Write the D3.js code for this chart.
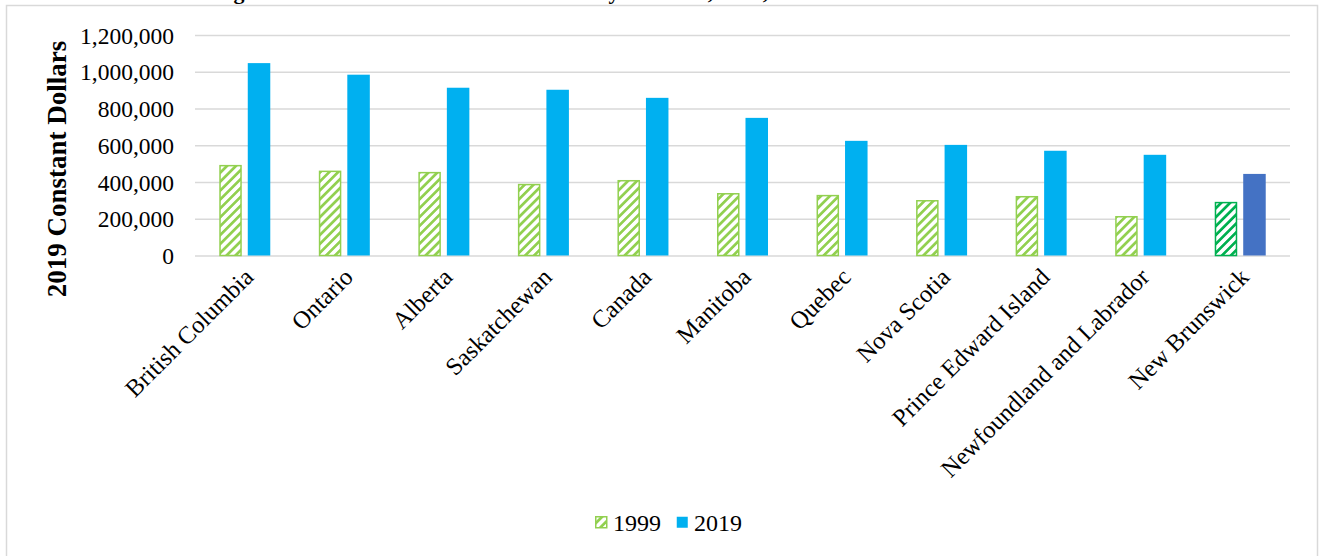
<!DOCTYPE html>
<html>
<head>
<meta charset="utf-8">
<script src="https://cdn.jsdelivr.net/npm/d3@7"></script>
<style>
  html, body { margin: 0; padding: 0; background: #fff; }
  svg { display: block; }
  text { font-family: "Liberation Serif", "Times New Roman", serif; fill: #000; }
</style>
</head>
<body>
<svg id="chart" width="1321" height="556"></svg>
<script>
// ---- data ----
const categories = ["British Columbia", "Ontario", "Alberta", "Saskatchewan", "Canada", "Manitoba",
  "Quebec", "Nova Scotia", "Prince Edward Island", "Newfoundland and Labrador", "New Brunswick"];
const years = ["1999", "2019"];
const values1999 = [493000, 462000, 455000, 390000, 411000, 340000, 330000, 302000, 324000, 215000, 292000];
const values2019 = [1047000, 984000, 913000, 902000, 858000, 749000, 624000, 602000, 570000, 548000, 444000];
const yTicks = [0, 200000, 400000, 600000, 800000, 1000000, 1200000];
const yTitle = "2019 Constant Dollars";
const chartTitle = "Figure 2: Median Net Worth of Families by Province, 1999, 2019";
const highlight = "New Brunswick";

const svg = d3.select("#chart");
const m = { left: 195, right: 1290, top: 35, bottom: 255.5 };

// patterns
const defs = svg.append("defs");
function hatch(id, color) {
  const p = defs.append("pattern").attr("id", id)
    .attr("patternUnits", "userSpaceOnUse")
    .attr("width", 6.3).attr("height", 6.3)
    .attr("patternTransform", "rotate(45)");
  p.append("rect").attr("width", 6.3).attr("height", 6.3).attr("fill", "#fff");
  p.append("rect").attr("x", 0).attr("width", 2.7).attr("height", 6.3).attr("fill", color);
}
hatch("h1", "#92D050");
hatch("h2", "#00B050");

// frame
svg.append("rect").attr("x", 6.5).attr("y", 5.5).attr("width", 1311).attr("height", 600)
  .attr("fill", "none").attr("stroke", "#D9D9D9").attr("stroke-width", 1.5);

// clipped title (only descenders visible, as in the reference)
svg.append("text").attr("x", 214).attr("y", -1)
  .style("font-size", "22px").style("font-weight", "bold").text(chartTitle);

const x = d3.scaleBand().domain(categories).range([m.left, m.right]).padding(0);
const x1 = d3.scaleBand().domain(years)
  .range([x.bandwidth() / 2 - 25.5, x.bandwidth() / 2 + 25.5]).paddingInner(0.21);
const y = d3.scaleLinear().domain([0, 1200000]).range([m.bottom, m.top]);

// gridlines + tick labels
const yAxis = d3.axisLeft(y).tickValues(yTicks).tickSize(-(m.right - m.left))
  .tickFormat(d3.format(","));
const gy = svg.append("g").attr("transform", `translate(${m.left},0)`).call(yAxis);
gy.select(".domain").remove();
gy.selectAll(".tick line").attr("stroke", "#D9D9D9").attr("stroke-width", 1.5);
gy.selectAll(".tick text").attr("x", -21).attr("dy", "0.34em")
  .style("font-size", "23.5px").style("font-family", "Liberation Serif, serif");

// bars
const groups = svg.append("g").selectAll("g").data(categories).join("g")
  .attr("transform", d => `translate(${x(d)},0)`);
groups.append("rect")
  .attr("x", d => x1("1999") + 0.75)
  .attr("y", (d, i) => y(values1999[i]) + 0.75)
  .attr("width", x1.bandwidth() - 1.5)
  .attr("height", (d, i) => y(0) - y(values1999[i]) - 0.75)
  .attr("fill", d => d === highlight ? "url(#h2)" : "url(#h1)")
  .attr("stroke", d => d === highlight ? "#00B050" : "#92D050")
  .attr("stroke-width", 1.5);
groups.append("rect")
  .attr("x", d => x1("2019"))
  .attr("y", (d, i) => y(values2019[i]))
  .attr("width", x1.bandwidth())
  .attr("height", (d, i) => y(0) - y(values2019[i]))
  .attr("fill", d => d === highlight ? "#4472C4" : "#00B0F0");

// x labels
const xAxis = d3.axisBottom(x).tickSize(0);
const gx = svg.append("g").attr("transform", `translate(0,${m.bottom})`).call(xAxis);
gx.select(".domain").remove();
gx.selectAll(".tick text")
  .attr("text-anchor", "end")
  .attr("transform", "translate(4,17) rotate(-45)")
  .attr("x", 0).attr("y", 0).attr("dy", "0.35em")
  .style("font-size", "24.5px").style("font-family", "Liberation Serif, serif");

// y title
svg.append("text")
  .attr("transform", `translate(66,${(40 + 298) / 2}) rotate(-90)`)
  .attr("text-anchor", "middle")
  .style("font-size", "27px").style("font-weight", "bold")
  .text(yTitle);

// legend
const legend = svg.append("g").attr("transform", "translate(595,522)");
const li = legend.selectAll("g").data(years).join("g")
  .attr("transform", (d, i) => `translate(${i * 81},0)`);
li.append("rect").attr("x", 0.75).attr("y", -5.25).attr("width", 11).attr("height", 11)
  .attr("fill", d => d === "1999" ? "url(#h1)" : "#00B0F0")
  .attr("stroke", d => d === "1999" ? "#92D050" : "none")
  .attr("stroke-width", 1.5);
li.append("text").attr("x", 18).attr("y", 1).attr("dy", "0.35em")
  .style("font-size", "24px").text(d => d);
</script>
</body>
</html>
